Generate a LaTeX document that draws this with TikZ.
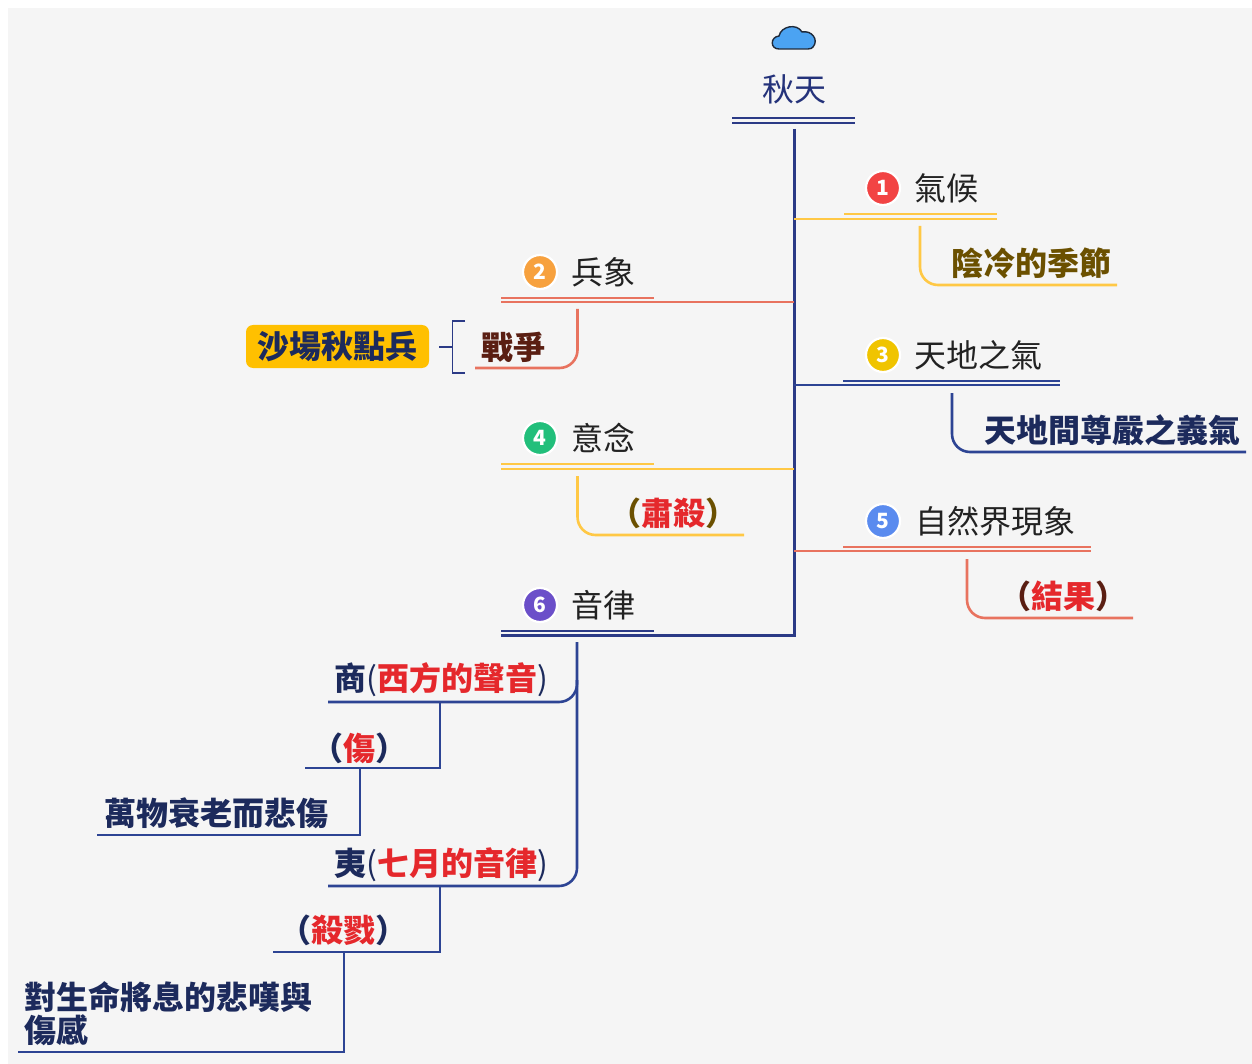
\documentclass[tikz,border=0pt]{standalone}
\usepackage{fontspec}
\setmainfont{Noto Sans CJK TC}
\definecolor{bg}{HTML}{F5F5F5}
\definecolor{navyl}{HTML}{2D4494}
\definecolor{trunkc}{HTML}{2B3A86}
\definecolor{navyt}{HTML}{1C2A5C}
\definecolor{rootc}{HTML}{24327A}
\definecolor{labelc}{HTML}{222222}
\definecolor{yell}{HTML}{FFC845}
\definecolor{salm}{HTML}{E8735F}
\definecolor{redc}{HTML}{E5282C}
\definecolor{brownc}{HTML}{6B5000}
\definecolor{darkred}{HTML}{5A1E12}
\definecolor{boxc}{HTML}{FFC000}
\definecolor{cloudc}{HTML}{4BA3F2}
\definecolor{cloudo}{HTML}{1F2A3A}
\definecolor{b1}{HTML}{F24444}
\definecolor{b2}{HTML}{F7A13E}
\definecolor{b3}{HTML}{F0C400}
\definecolor{b4}{HTML}{22BF7B}
\definecolor{b5}{HTML}{5A8BEF}
\definecolor{b6}{HTML}{6B4FC9}
\begin{document}
\begin{tikzpicture}[x=1pt,y=-1pt,
  lbl/.style={font=\fontsize{32}{32}\selectfont, text=labelc, inner sep=0pt, anchor=west},
  sub/.style={font=\fontsize{32}{32}\selectfont\bfseries, inner sep=0pt},
  badge/.style={circle, draw=white, line width=2.2pt, minimum size=34pt, inner sep=0pt, text=white, font=\fontsize{21}{21}\selectfont\bfseries},
  dbl/.style={line width=2.3pt},
  main/.style={line width=3pt},
  kid/.style={line width=2.6pt, rounded corners=18pt},
  step2/.style={line width=2.6pt}
]
\useasboundingbox (0,0) rectangle (1252,1064);
\fill[white] (0,0) rectangle (1252,1064);
\fill[bg] (8,8) rectangle (1252,1064);

% cloud
\draw[fill=cloudc, draw=cloudo, line width=1.4pt]
  (779,49) .. controls (770,49) and (770,37) .. (779,36)
  .. controls (781,26) and (797,23) .. (802,32)
  .. controls (812,30) and (819,40) .. (813,47)
  .. controls (812,48) and (811,49) .. (808,49) -- cycle;

% root
\node[font=\fontsize{32}{32}\selectfont, text=rootc, inner sep=0pt] (root) at (794,89) {秋天};
\coordinate (rl) at (732,118); \coordinate (rr) at (855,118);
\draw[trunkc, dbl] (rl) -- (rr);
\draw[trunkc, dbl] ([yshift=-5pt]rl) -- ([yshift=-5pt]rr);
\coordinate (ttop) at (794,129);
\coordinate (tbot) at (794,635);
\coordinate (b6l) at (501,635);
\draw[trunkc, main] (ttop) -- (tbot) -- (b6l);

% ---- branch 1
\node[badge, fill=b1] (n1) at (883,188) {1};
\node[lbl] (l1) at (914,188) {氣候};
\draw[yell, dbl] (844,214) -- (997,214);
\draw[yell, dbl] (794,219) -- (997,219);
\coordinate (c1a) at (920,226); \coordinate (c1b) at (1117,285);
\draw[yell, kid] (c1a) |- (c1b);
\node[sub, anchor=west, text=brownc] (s1) at (951,263) {陰冷的季節};

% ---- branch 2
\node[badge, fill=b2] (n2) at (540,272) {2};
\node[lbl] (l2) at (571,272) {兵象};
\draw[salm, dbl] (501,298) -- (654,298);
\draw[salm, dbl] (501,302) -- (794,302);
\coordinate (c2a) at (577.5,309); \coordinate (c2b) at (475,368);
\draw[salm, kid] (c2a) |- (c2b);
\node[sub, anchor=west, text=darkred] (s2) at (481,347) {戰爭};
\draw[trunkc, line width=1.7pt] (465,321) -- (452.5,321) -- (452.5,373) -- (465,373);
\coordinate (brk) at (452.5,347);
\node[fill=boxc, rounded corners=7pt, minimum width=183pt, minimum height=43pt, inner sep=0pt,
      font=\fontsize{32}{32}\selectfont\bfseries, text=navyt] (box) at (337.5,346.5) {沙場秋點兵};
\draw[trunkc, line width=1.7pt] (439,347) -- (brk);

% ---- branch 3
\node[badge, fill=b3] (n3) at (883,355) {3};
\node[lbl] (l3) at (914,355) {天地之氣};
\draw[navyl, dbl] (843,381) -- (1060,381);
\draw[navyl, dbl] (794,385) -- (1060,385);
\coordinate (c3a) at (952,393); \coordinate (c3b) at (1246,452);
\draw[navyl, kid] (c3a) |- (c3b);
\node[sub, anchor=west, text=navyt] (s3) at (984,430) {天地間尊嚴之義氣};

% ---- branch 4
\node[badge, fill=b4] (n4) at (540,438) {4};
\node[lbl] (l4) at (571,438) {意念};
\draw[yell, dbl] (501,464) -- (654,464);
\draw[yell, dbl] (501,469) -- (794,469);
\coordinate (c4a) at (577.5,476); \coordinate (c4b) at (744,535);
\draw[yell, kid] (c4a) |- (c4b);
\node[sub, text=brownc] (s4) at (673.5,513) {（\textcolor{redc}{肅殺}）};

% ---- branch 5
\node[badge, fill=b5] (n5) at (883,521) {5};
\node[lbl] (l5) at (915,521) {自然界現象};
\draw[salm, dbl] (843,547) -- (1091,547);
\draw[salm, dbl] (794,551) -- (1091,551);
\coordinate (c5a) at (967,559); \coordinate (c5b) at (1133,618);
\draw[salm, kid] (c5a) |- (c5b);
\node[sub, text=darkred] (s5) at (1063.5,596) {（\textcolor{redc}{結果}）};

% ---- branch 6
\node[badge, fill=b6] (n6) at (540,605) {6};
\node[lbl] (l6) at (571,605) {音律};
\draw[trunkc, dbl] (501,631) -- (654,631);
\coordinate (c6a) at (577,642);
\coordinate (c6m) at (577,680);
\coordinate (shL) at (328,702);
\coordinate (yiL) at (328,886);
\draw[navyl, kid] (c6a) |- (yiL);
\draw[navyl, kid] (c6m) |- (shL);
\node[sub, anchor=west, text=navyt] (shang) at (334,680) {商{\mdseries(}\textcolor{redc}{西方的聲音}{\mdseries)}};
\node[sub, anchor=west, text=navyt] (yi) at (334,865) {夷{\mdseries(}\textcolor{redc}{七月的音律}{\mdseries)}};

\coordinate (s1a) at (440,702); \coordinate (s1b) at (305,768);
\draw[navyl, step2] (s1a) |- (s1b);
\node[sub, text=navyt] (shang2) at (359.5,748) {（\textcolor{redc}{傷}）};
\coordinate (s2a) at (360,768); \coordinate (s2b) at (97,835);
\draw[navyl, step2] (s2a) |- (s2b);
\node[sub, anchor=west, text=navyt] (shang3) at (104,813) {萬物衰老而悲傷};

\coordinate (y1a) at (440,886); \coordinate (y1b) at (273,952);
\draw[navyl, step2] (y1a) |- (y1b);
\node[sub, text=navyt] (yi2) at (343.5,930) {（\textcolor{redc}{殺戮}）};
\coordinate (y2a) at (344,952); \coordinate (y2b) at (18,1052);
\draw[navyl, step2] (y2a) |- (y2b);
\node[sub, anchor=west, align=left, text=navyt, font=\fontsize{32}{33}\selectfont\bfseries] (yi3) at (24,1013.5) {對生命將息的悲嘆與\\傷感};
\end{tikzpicture}
\end{document}
